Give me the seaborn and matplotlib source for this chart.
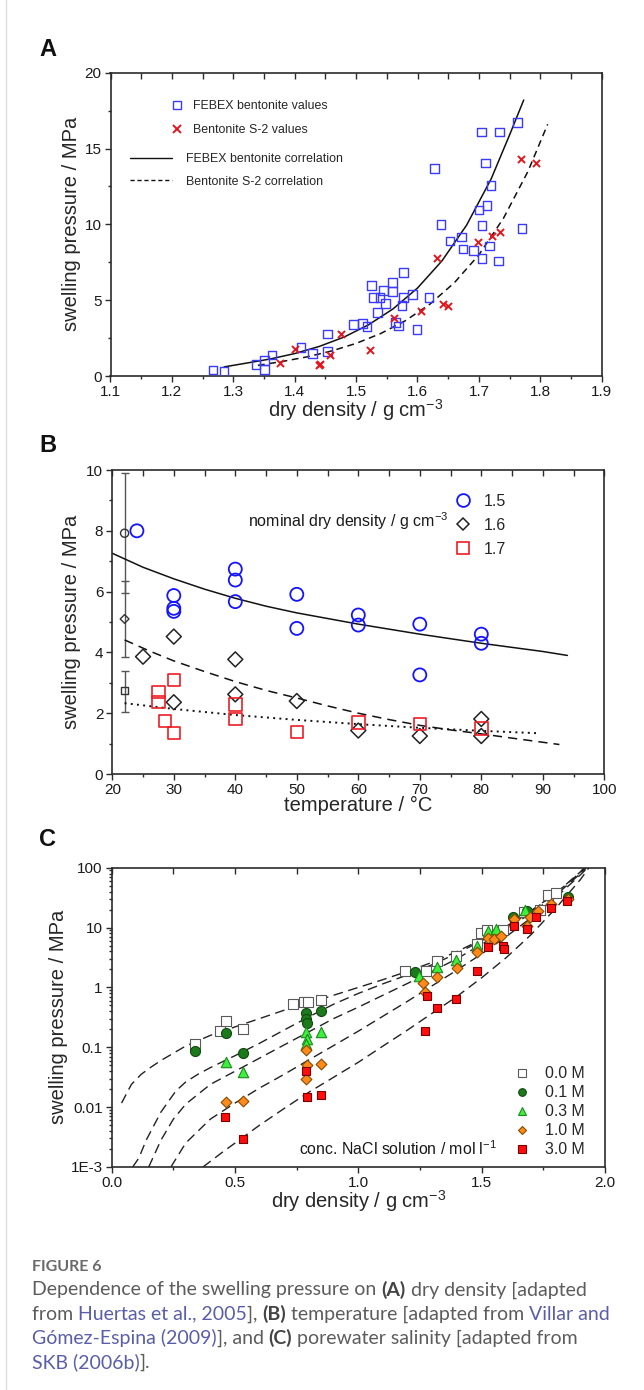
import matplotlib
matplotlib.use("Agg")
import matplotlib.pyplot as plt
from matplotlib.lines import Line2D
from matplotlib.ticker import MultipleLocator, FixedLocator, FixedFormatter, LogLocator, NullFormatter
import seaborn as sns

# ---------------- panel A: swelling pressure vs dry density
febex_density = [1.267, 1.285, 1.337, 1.351, 1.351, 1.363, 1.410, 1.429, 1.453, 1.453,
                 1.496, 1.510, 1.518, 1.564, 1.569, 1.599, 1.535, 1.548, 1.575, 1.528,
                 1.539, 1.577, 1.592, 1.619, 1.545, 1.559, 1.525, 1.559, 1.577, 1.674,
                 1.691, 1.717, 1.705, 1.732, 1.653, 1.672, 1.638, 1.705, 1.770, 1.700,
                 1.713, 1.720, 1.711, 1.628, 1.704, 1.734, 1.763]
febex_pressure = [0.40, 0.29, 0.75, 1.01, 0.44, 1.38, 1.89, 1.49, 2.77, 1.60,
                  3.41, 3.47, 3.25, 3.51, 3.30, 3.08, 4.20, 4.79, 4.64, 5.19,
                  5.16, 5.16, 5.36, 5.16, 5.62, 5.58, 5.98, 6.15, 6.84, 8.37,
                  8.26, 8.57, 7.76, 7.58, 8.90, 9.18, 10.0, 9.91, 9.71, 10.94,
                  11.23, 12.55, 14.04, 13.67, 16.10, 16.10, 16.72]
s2_density = [1.376, 1.400, 1.439, 1.442, 1.458, 1.475, 1.522, 1.561, 1.605, 1.641,
              1.649, 1.632, 1.699, 1.721, 1.734, 1.769, 1.793]
s2_pressure = [0.88, 1.76, 0.75, 0.79, 1.40, 2.75, 1.69, 3.80, 4.26, 4.77,
               4.61, 7.78, 8.83, 9.25, 9.51, 14.33, 14.04]
febex_fit_density = [1.285, 1.32, 1.36, 1.40, 1.44, 1.48, 1.52, 1.56, 1.60, 1.64,
                     1.68, 1.72, 1.75, 1.773]
febex_fit_pressure = [0.60, 0.84, 1.12, 1.48, 1.95, 2.56, 3.37, 4.42, 5.80, 7.60,
                      9.95, 13.0, 15.9, 18.2]
s2_fit_density = [1.34, 1.38, 1.42, 1.46, 1.50, 1.54, 1.58, 1.62, 1.66, 1.70,
                  1.74, 1.78, 1.812]
s2_fit_pressure = [0.70, 0.96, 1.26, 1.65, 2.15, 2.80, 3.64, 4.73, 6.15, 7.99,
                   10.4, 13.5, 16.6]

# ---------------- panel B: swelling pressure vs temperature
b15_temp = [24, 30, 30, 30, 40, 40, 40, 50, 50, 60, 60, 70, 70, 80, 80]
b15_press = [8.0, 5.87, 5.45, 5.35, 6.74, 6.38, 5.67, 5.91, 4.79, 5.23, 4.90, 4.93, 3.26, 4.60, 4.30]
b16_temp = [25, 30, 30, 40, 40, 50, 60, 70, 80, 80]
b16_press = [3.86, 4.52, 2.36, 3.77, 2.62, 2.40, 1.43, 1.25, 1.81, 1.25]
b17_temp = [27.5, 27.5, 30, 28.6, 30, 40, 40, 50, 60, 70, 80]
b17_press = [2.69, 2.36, 3.09, 1.75, 1.34, 2.29, 1.81, 1.39, 1.70, 1.64, 1.50]
ref_temp = [22, 22, 22]
ref_press = [7.92, 5.10, 2.74]
ref_err_low = [1.96, 1.26, 0.69]
ref_err_high = [1.97, 1.26, 0.66]
fit15_temp = [20, 25, 30, 35, 40, 45, 50, 60, 70, 80, 90, 94]
fit15_press = [7.26, 6.80, 6.42, 6.08, 5.78, 5.52, 5.30, 4.93, 4.60, 4.30, 4.03, 3.90]
fit16_temp = [22, 26, 30, 35, 40, 45, 50, 55, 60, 65, 70, 75, 80, 85, 92.7]
fit16_press = [4.41, 4.05, 3.72, 3.37, 3.04, 2.75, 2.50, 2.24, 2.00, 1.79, 1.60, 1.45, 1.32, 1.18, 0.97]
fit17_temp = [22, 30, 40, 50, 60, 70, 80, 89.4]
fit17_press = [2.33, 2.14, 1.94, 1.78, 1.64, 1.52, 1.42, 1.34]

# ---------------- panel C: swelling pressure vs dry density for NaCl solutions
c00_density = [0.338, 0.439, 0.462, 0.534, 0.734, 0.780, 0.797, 0.847, 1.190, 1.273,
               1.318, 1.397, 1.482, 1.496, 1.520, 1.585, 1.672, 1.736, 1.770, 1.800]
c00_press = [0.115, 0.19, 0.27, 0.20, 0.52, 0.58, 0.58, 0.62, 1.9, 1.9,
             2.8, 3.3, 5.4, 8.0, 9.1, 9.1, 18.0, 19.5, 35.0, 38.0]
c01_density = [0.338, 0.463, 0.534, 0.786, 0.786, 0.793, 0.847, 1.230, 1.628, 1.683, 1.851]
c01_press = [0.088, 0.17, 0.080, 0.37, 0.30, 0.25, 0.40, 1.8, 15.0, 19.0, 32.0]
c03_density = [0.463, 0.531, 0.786, 0.793, 0.786, 0.847, 1.247, 1.320, 1.397, 1.482,
               1.527, 1.557, 1.676]
c03_press = [0.056, 0.038, 0.18, 0.14, 0.115, 0.18, 1.55, 2.2, 2.9, 5.0,
             8.6, 9.5, 19.5]
c10_density = [0.463, 0.531, 0.786, 0.793, 0.786, 0.847, 1.263, 1.270, 1.320, 1.399,
               1.482, 1.524, 1.550, 1.580, 1.630, 1.683, 1.697, 1.730, 1.780, 1.851]
c10_press = [0.012, 0.0125, 0.09, 0.05, 0.03, 0.052, 1.2, 0.85, 1.5, 2.1,
             3.9, 6.8, 6.5, 7.3, 14.0, 10.5, 15.0, 19.0, 25.0, 30.0]
c30_density = [0.459, 0.531, 0.786, 0.793, 0.847, 1.270, 1.320, 1.397, 1.277, 1.482,
               1.527, 1.585, 1.590, 1.630, 1.683, 1.720, 1.780, 1.846]
c30_press = [0.0068, 0.0029, 0.040, 0.015, 0.016, 0.19, 0.45, 0.65, 0.72, 1.9,
             4.7, 4.9, 4.4, 10.5, 9.5, 15.0, 21.0, 28.0]

m00_density = [0.04, 0.08, 0.12, 0.16, 0.2, 0.3, 0.4, 0.5, 0.6, 0.7, 0.8, 0.9, 1.0,
               1.1, 1.2, 1.3, 1.4, 1.5, 1.6, 1.7, 1.8, 1.9, 1.915]
m00_press = [0.0117, 0.024, 0.0355, 0.0468, 0.0603, 0.105, 0.158, 0.219, 0.302, 0.417,
             0.55, 0.741, 1.0, 1.35, 1.86, 2.63, 3.98, 6.31, 10.5, 19.1, 37.2, 85.1, 100]
m01_density = [0.085, 0.11, 0.14, 0.2, 0.26, 0.3, 0.35, 0.4, 0.5, 0.6, 0.7, 0.8, 0.9,
               1.0, 1.1, 1.2, 1.3, 1.4, 1.5, 1.6, 1.7, 1.8, 1.9, 1.92]
m01_press = [0.001, 0.00141, 0.00282, 0.00832, 0.0186, 0.0263, 0.0355, 0.0457, 0.0724,
             0.117, 0.195, 0.324, 0.525, 0.794, 1.15, 1.62, 2.40, 3.72, 6.03, 10.2,
             18.6, 37.2, 83.2, 100]
m03_density = [0.15, 0.2, 0.25, 0.3, 0.4, 0.5, 0.6, 0.7, 0.8, 0.9, 1.0, 1.1, 1.2,
               1.3, 1.4, 1.5, 1.6, 1.7, 1.8, 1.9, 1.925]
m03_press = [0.001, 0.00282, 0.00631, 0.0112, 0.024, 0.0398, 0.0661, 0.110, 0.182,
             0.302, 0.468, 0.741, 1.17, 1.86, 3.02, 5.25, 9.33, 17.4, 34.7, 79.4, 100]
m10_density = [0.24, 0.3, 0.4, 0.5, 0.6, 0.7, 0.8, 0.9, 1.0, 1.1, 1.2, 1.3, 1.4,
               1.5, 1.6, 1.7, 1.8, 1.9, 1.93]
m10_press = [0.001, 0.00251, 0.00631, 0.0117, 0.0209, 0.0355, 0.0617, 0.107, 0.186,
             0.331, 0.589, 1.07, 1.95, 3.63, 7.08, 14.5, 31.6, 75.9, 100]
m30_density = [0.37, 0.45, 0.5, 0.6, 0.7, 0.8, 0.9, 1.0, 1.1, 1.2, 1.3, 1.4, 1.5,
               1.6, 1.7, 1.8, 1.9, 1.935]
m30_press = [0.001, 0.00178, 0.00251, 0.00501, 0.00955, 0.0178, 0.0316, 0.0562, 0.105,
             0.195, 0.372, 0.708, 1.45, 3.16, 7.59, 20.9, 63.1, 100]

c_ticks = [1e-3, 1e-2, 1e-1, 1, 10, 100]
c_tick_labels = ["1E-3", "0.01", "0.1", "1", "10", "100"]
c_legend_labels = ["0.0 M", "0.1 M", "0.3 M", "1.0 M", "3.0 M"]

# ---------------- style
sns.set_theme(style="ticks")
plt.rcParams['font.family'] = ['Liberation Sans', 'DejaVu Sans']
plt.rcParams['mathtext.default'] = 'regular'

W, H = 644, 1390
fig = plt.figure(figsize=(W / 100, H / 100), dpi=100)
fig.patch.set_facecolor('white')

TICK_FS = 11
LABEL_FS = 14.5
SPINE = '#2b2b2b'


def add_axes_px(left, top, right, bottom):
    return fig.add_axes([left / W, 1 - bottom / H, (right - left) / W, (bottom - top) / H])


def style_axes(ax, top_major, top_minor):
    for side in ['left', 'bottom', 'top', 'right']:
        ax.spines[side].set_visible(True)
        ax.spines[side].set_color(SPINE)
        ax.spines[side].set_linewidth(1.2)
    ax.tick_params(which='both', direction='out', colors=SPINE, width=1.0,
                   labelsize=TICK_FS, labelcolor='#1a1a1a', top=False, right=False)
    ax.tick_params(which='major', length=4.5, pad=2)
    ax.tick_params(which='minor', length=2.5)
    ax.grid(False)
    sec = ax.secondary_xaxis('top')
    sec.xaxis.set_major_locator(MultipleLocator(top_major))
    sec.xaxis.set_minor_locator(MultipleLocator(top_minor))
    sec.tick_params(which='both', direction='in', colors=SPINE, width=1.0,
                    labeltop=False, length=4.5)
    sec.spines['top'].set_visible(False)


axA = add_axes_px(110.5, 72.7, 601.7, 376)
axB = add_axes_px(112.3, 470, 604.3, 774)
axC = add_axes_px(111.7, 867.7, 605, 1167)

# ---------------- panel A
sns.scatterplot(x=febex_density, y=febex_pressure, marker='s', s=38, facecolor='none',
                edgecolor='#3b3bff', linewidth=1.0, ax=axA, zorder=3)
sns.scatterplot(x=s2_density, y=s2_pressure, marker='x', s=26, color='#e3161d',
                edgecolor='#e3161d', linewidth=1.4, ax=axA, zorder=3)
sns.lineplot(x=febex_fit_density, y=febex_fit_pressure, color='#111111', lw=1.1,
             sort=False, estimator=None, ax=axA)
sns.lineplot(x=s2_fit_density, y=s2_fit_pressure, color='#111111', lw=1.1,
             linestyle=(0, (4.5, 3)), sort=False, estimator=None, ax=axA)
axA.set_xlim(1.1, 1.9)
axA.set_ylim(0, 20)
style_axes(axA, 0.05, 0.05)
axA.xaxis.set_major_locator(MultipleLocator(0.1))
axA.xaxis.set_minor_locator(MultipleLocator(0.05))
axA.yaxis.set_major_locator(MultipleLocator(5))
axA.yaxis.set_minor_locator(MultipleLocator(2.5))
axA.xaxis.set_major_formatter(matplotlib.ticker.FormatStrFormatter('%.1f'))
axA.set_xlabel('dry density / g cm$^{-3}$', fontsize=LABEL_FS, va='center')
axA.set_ylabel('swelling pressure / MPa', fontsize=LABEL_FS, va='center')
axA.xaxis.set_label_coords(0.5, -0.113)
axA.yaxis.set_label_coords(-0.079, 0.5)

hA1 = [Line2D([], [], ls='none', marker='s', ms=6, mfc='none', mec='#3b3bff', mew=1.0),
       Line2D([], [], ls='none', marker='x', ms=5.5, color='#e3161d', mew=1.4)]
legA1 = axA.legend(hA1, ['FEBEX bentonite values', 'Bentonite S-2 values'],
                   loc='upper left', bbox_to_anchor=(0.1228, 0.910), frameon=False,
                   fontsize=8.9, handlelength=1.0, handletextpad=0.77, labelspacing=0.98,
                   borderpad=0, borderaxespad=0)
axA.add_artist(legA1)
hA2 = [Line2D([], [], color='#111111', lw=1.0),
       Line2D([], [], color='#111111', lw=1.0, ls=(0, (3, 2)))]
axA.legend(hA2, ['FEBEX bentonite correlation', 'Bentonite S-2 correlation'],
           loc='upper left', bbox_to_anchor=(0.0397, 0.734), frameon=False,
           fontsize=8.9, handlelength=3.4, handletextpad=1.13, labelspacing=0.82,
           borderpad=0, borderaxespad=0)

# ---------------- panel B
axB.errorbar(ref_temp, ref_press, yerr=[ref_err_low, ref_err_high], fmt='none',
             ecolor='#555555', elinewidth=1.0, capsize=3.2, capthick=1.0, zorder=2)
ref_markers = ['o', 'D', 's']
ref_sizes = [34, 20, 28]
for t, p, m, sz in zip(ref_temp, ref_press, ref_markers, ref_sizes):
    sns.scatterplot(x=[t], y=[p], marker=m, s=sz, facecolor='none', edgecolor='#333333',
                    linewidth=1.0, ax=axB, zorder=3)
sns.scatterplot(x=b15_temp, y=b15_press, marker='o', s=88, facecolor='none',
                edgecolor='#1414ff', linewidth=1.3, ax=axB, zorder=3)
sns.scatterplot(x=b16_temp, y=b16_press, marker='D', s=58, facecolor='none',
                edgecolor='#222222', linewidth=1.1, ax=axB, zorder=3)
sns.scatterplot(x=b17_temp, y=b17_press, marker='s', s=80, facecolor='none',
                edgecolor='#ee1c24', linewidth=1.2, ax=axB, zorder=3)
sns.lineplot(x=fit15_temp, y=fit15_press, color='#111111', lw=1.1,
             sort=False, estimator=None, ax=axB)
sns.lineplot(x=fit16_temp, y=fit16_press, color='#111111', lw=1.1,
             linestyle=(0, (6, 4)), sort=False, estimator=None, ax=axB)
sns.lineplot(x=fit17_temp, y=fit17_press, color='#111111', lw=1.4,
             linestyle=(0, (1, 2.2)), sort=False, estimator=None, ax=axB)
axB.set_xlim(20, 100)
axB.set_ylim(0, 10)
style_axes(axB, 5, 5)
axB.xaxis.set_major_locator(MultipleLocator(10))
axB.xaxis.set_minor_locator(MultipleLocator(5))
axB.yaxis.set_major_locator(MultipleLocator(2))
axB.yaxis.set_minor_locator(MultipleLocator(1))
axB.set_xlabel('temperature / °C', fontsize=LABEL_FS, va='center')
axB.set_ylabel('swelling pressure / MPa', fontsize=LABEL_FS, va='center')
axB.xaxis.set_label_coords(0.5, -0.104)
axB.yaxis.set_label_coords(-0.082, 0.5)
axB.text(0.2764, 0.833, 'nominal dry density / g cm$^{-3}$', transform=axB.transAxes,
         fontsize=11.5, va='center', ha='left', color='#1a1a1a')
hB = [Line2D([], [], ls='none', marker='o', ms=9.2, mfc='none', mec='#1414ff', mew=1.3),
      Line2D([], [], ls='none', marker='D', ms=6.6, mfc='none', mec='#222222', mew=1.1),
      Line2D([], [], ls='none', marker='s', ms=8.6, mfc='none', mec='#ee1c24', mew=1.2)]
axB.legend(hB, ['1.5', '1.6', '1.7'], loc='upper left', bbox_to_anchor=(0.696, 0.922),
           frameon=False, fontsize=11.5, handlelength=1.0, handletextpad=0.79,
           labelspacing=0.56, borderpad=0, borderaxespad=0)

# ---------------- panel C
for xs, ys in [(m00_density, m00_press), (m01_density, m01_press), (m03_density, m03_press),
               (m10_density, m10_press), (m30_density, m30_press)]:
    sns.lineplot(x=xs, y=ys, color='#222222', lw=1.0, linestyle=(0, (7, 4)),
                 sort=False, estimator=None, ax=axC, zorder=2)
c_series = [
    (c00_density, c00_press, 's', 44, 'white', '#5a5a5a'),
    (c01_density, c01_press, 'o', 52, '#1c7a1c', '#0f4a0f'),
    (c03_density, c03_press, '^', 56, '#3cf03c', '#1c8a1c'),
    (c10_density, c10_press, 'D', 30, '#ff8a1a', '#8a4a00'),
    (c30_density, c30_press, 's', 40, '#ff0d0d', '#7a0000'),
]
for i, (xs, ys, m, sz, fc, ec) in enumerate(c_series):
    sns.scatterplot(x=xs, y=ys, marker=m, s=sz, color=fc, edgecolor=ec,
                    linewidth=0.8, ax=axC, zorder=3 + i)
axC.set_yscale('log')
axC.set_xlim(0, 2.0)
axC.set_ylim(1e-3, 100)
style_axes(axC, 0.25, 0.25)
axC.xaxis.set_major_locator(MultipleLocator(0.5))
axC.xaxis.set_minor_locator(MultipleLocator(0.25))
axC.xaxis.set_major_formatter(matplotlib.ticker.FormatStrFormatter('%.1f'))
axC.yaxis.set_major_locator(FixedLocator(c_ticks))
axC.yaxis.set_major_formatter(FixedFormatter(c_tick_labels))
axC.yaxis.set_minor_locator(LogLocator(base=10, subs=range(2, 10)))
axC.yaxis.set_minor_formatter(NullFormatter())
axC.set_xlabel('dry density / g cm$^{-3}$', fontsize=LABEL_FS, va='center')
axC.set_ylabel('swelling pressure / MPa', fontsize=LABEL_FS, va='center')
axC.xaxis.set_label_coords(0.5, -0.114)
axC.yaxis.set_label_coords(-0.108, 0.5)
axC.text(0.7805, 0.0625, 'conc. NaCl solution / mol l$^{-1}$', transform=axC.transAxes,
         fontsize=11.4, va='center', ha='right', color='#1a1a1a')
hC = [Line2D([], [], ls='none', marker=m, ms=5.5 if m != 'D' else 4.2, mfc=fc, mec=ec, mew=0.8)
      for (_, _, m, _, fc, ec) in c_series]
axC.legend(hC, c_legend_labels, loc='lower left', bbox_to_anchor=(0.815, 0.0324),
           frameon=False, fontsize=11.4, handlelength=1.0, handletextpad=0.97,
           labelspacing=0.25, borderpad=0, borderaxespad=0)

# ---------------- panel letters
for letter, y in [('A', 50), ('B', 445), ('C', 840)]:
    fig.text(48 / W, 1 - y / H, letter, fontsize=17, fontweight='bold',
             ha='center', va='center', color='#111111')

# ---------------- caption
fig.add_artist(Line2D([6 / W, 6 / W], [0, 1], transform=fig.transFigure,
                      color='#dcdcdc', lw=1.0))
fig.text(32 / W, 1 - 1267 / H, 'FIGURE 6', fontsize=11.5, color='#6a6a6a',
         family=['Lato', 'DejaVu Sans'], fontweight='bold', va='center')

CAP_FS = 14
styles = {
    'n': dict(color='#5c5c5c', fontweight='normal'),
    'b': dict(color='#444444', fontweight='bold'),
    'l': dict(color='#5a5ea8', fontweight='normal'),
}
caption_lines = [
    [("Dependence of the swelling pressure on ", 'n'), ("(A)", 'b'), (" dry density [adapted", 'n')],
    [("from ", 'n'), ("Huertas et al., 2005", 'l'), ("], ", 'n'), ("(B)", 'b'),
     (" temperature [adapted from ", 'n'), ("Villar and", 'l')],
    [("Gómez-Espina (2009)", 'l'), ("], and ", 'n'), ("(C)", 'b'),
     (" porewater salinity [adapted from", 'n')],
    [("SKB (2006b)", 'l'), ("].", 'n')],
]
caption_y = [1290, 1314, 1338, 1362]
renderer = fig.canvas.get_renderer()
for runs, yc in zip(caption_lines, caption_y):
    x = 32.0
    for txt, st in runs:
        t = fig.text(x / W, 1 - yc / H, txt, fontsize=CAP_FS, va='center', ha='left',
                     family=['Lato', 'DejaVu Sans'], **styles[st])
        x += t.get_window_extent(renderer).width

fig.savefig('out.png', dpi=100)
